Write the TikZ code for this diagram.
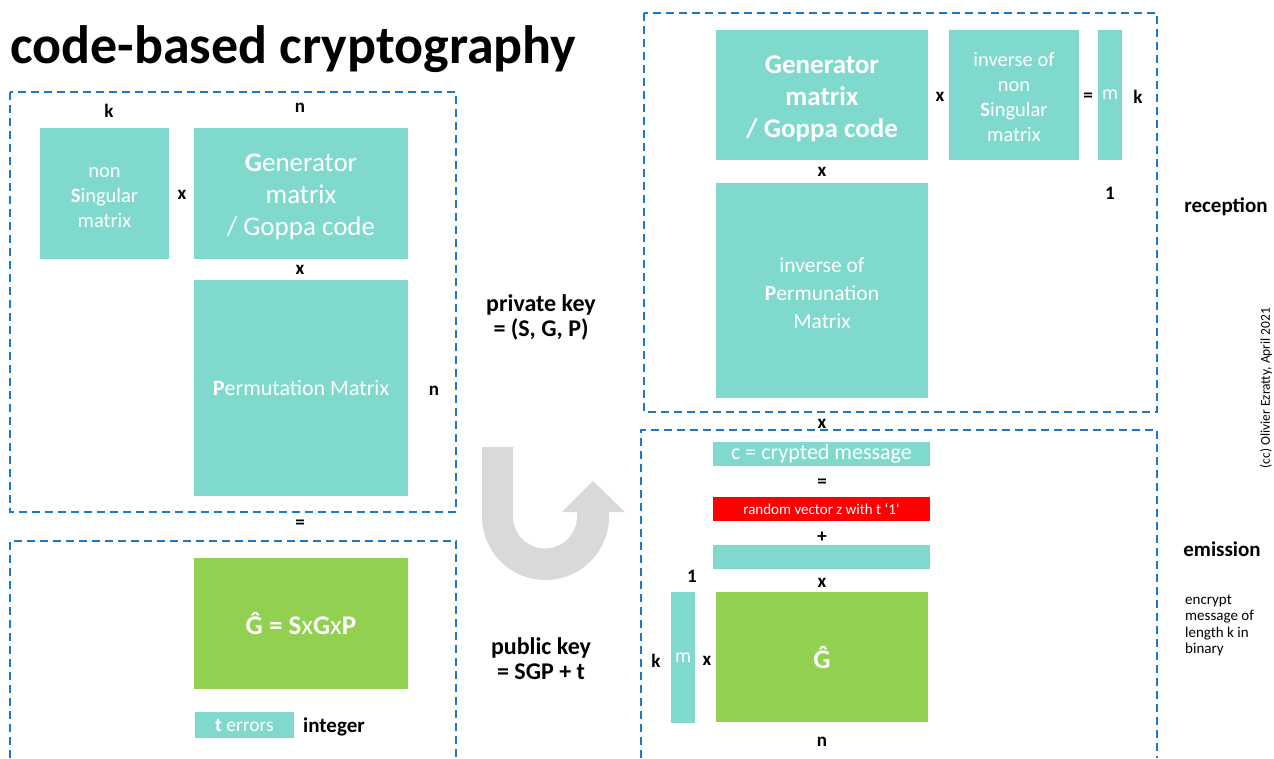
\documentclass[tikz,border=0pt]{standalone}
\usepackage{fontspec}
\setmainfont{Carlito}
\definecolor{teal1}{RGB}{127,218,205}
\definecolor{green1}{RGB}{146,208,80}
\definecolor{red1}{RGB}{255,0,0}
\definecolor{blue1}{RGB}{28,120,205}
\definecolor{gray1}{RGB}{217,217,217}
\newcommand{\fs}[2]{\fontsize{#1}{#2}\selectfont}
\newcommand{\dn}[1]{\raisebox{-4pt}[\height][\depth]{\begin{tabular}{@{}c@{}}#1\end{tabular}}}
\begin{document}
\begin{tikzpicture}[x=1pt,y=-1pt,
  mat/.style={fill=teal1,draw=none,inner sep=0pt,text=white,align=center},
  gmat/.style={fill=green1,draw=none,inner sep=0pt,text=white,align=center},
  rmat/.style={fill=red1,draw=none,inner sep=0pt,text=white,align=center},
  lbl/.style={font=\fs{19}{22}\bfseries,inner sep=0pt},
  dbox/.style={draw=blue1,line width=1.6pt,dash pattern=on 8pt off 5pt},
]
\useasboundingbox (0,0) rectangle (1274,758);
% title
\node[anchor=base west,inner sep=0pt,font=\fs{54}{60}\bfseries] (title) at (10,63) {code-based cryptography};
% dashed boxes
\draw[dbox] (10,92) rectangle (456,512);
\draw[dbox] (10,758) -- (10,541) -- (456,541) -- (456,758);
\draw[dbox] (644,13) rectangle (1157,412);
\draw[dbox] (641,758) -- (641,430) -- (1157,430) -- (1157,758);
% U-turn arrow
\fill[gray1] (482,447) -- (482,516.5) arc[start angle=180,end angle=0,radius=63.5]
  -- (609,512) -- (625,512) -- (593,481) -- (562,512) -- (577,512) -- (577,516.5)
  arc[start angle=0,end angle=180,radius=32] -- (513,447) -- cycle;
% left top
\node[lbl] (k1) at (109,111) {k};
\node[lbl] (n1) at (300,108) {n};
\node[mat,minimum width=129pt,minimum height=131pt,font=\fs{20.5}{25}] (S) at (104.5,193.5) {\dn{non\\\textbf{S}ingular\\matrix}};
\node[lbl] (x1) at (182,195) {x};
\node[mat,minimum width=214pt,minimum height=131pt,font=\fs{27}{32}] (G) at (301,193.5) {\dn{\textbf{G}enerator\\matrix\\/ Goppa code}};
\node[lbl] (x2) at (300,270) {x};
\node[mat,minimum width=214pt,minimum height=216pt,font=\fs{22}{26}] (P) at (301,388) {\textbf{P}ermutation Matrix};
\node[lbl] (n2) at (434,391) {n};
\node[lbl] (eq1) at (300,524) {=};
% left bottom
\node[gmat,minimum width=214pt,minimum height=131pt,font=\fs{27}{30}] (Gh) at (301,623.5) {\textbf{Ĝ = S}x\textbf{G}x\textbf{P}};
\node[mat,minimum width=99pt,minimum height=26pt,font=\fs{19.5}{22}] (t) at (244.5,725) {\textbf{t} errors};
\node[lbl,font=\fs{21}{24}\bfseries] (int) at (334,727) {integer};
% middle
\node[lbl,align=center,font=\fs{24}{25}\bfseries] (priv) at (541,317) {private key\\= (S, G, P)};
\node[lbl,align=center,font=\fs{24}{25}\bfseries] (pub) at (541,659) {public key\\= SGP + t};
% right top
\node[mat,minimum width=212pt,minimum height=130pt,font=\fs{27}{32}\bfseries] (G2) at (822,95) {\dn{Generator\\matrix\\/ Goppa code}};
\node[lbl] (x3) at (940,97) {x};
\node[mat,minimum width=130pt,minimum height=130pt,font=\fs{20.5}{25}] (Si) at (1014,95) {\dn{inverse of\\non\\\textbf{S}ingular\\matrix}};
\node[lbl] (eq2) at (1088,97) {=};
\node[mat,minimum width=24pt,minimum height=130pt,font=\fs{20}{22}] (m1) at (1110,95) {m};
\node[lbl] (k2) at (1138,97) {k};
\node[lbl] (one1) at (1110,193) {1};
\node[lbl] (x4) at (822,172) {x};
\node[mat,minimum width=212pt,minimum height=215pt,font=\fs{21.5}{28}] (Pi) at (822,290.5) {\dn{inverse of\\\textbf{P}ermunation\\Matrix}};
\node[lbl,font=\fs{21}{24}\bfseries] (rec) at (1226,207) {reception};
\node[rotate=90,inner sep=0pt,font=\fs{13.5}{15}] (cc) at (1266,388) {(cc) Olivier Ezratty, April 2021};
\node[lbl] (x5) at (822,424) {x};
% right bottom
\node[mat,minimum width=217pt,minimum height=24pt,font=\fs{22}{24}] (c) at (821.5,454) {c = crypted message};
\node[lbl] (eq3) at (822,483) {=};
\node[rmat,minimum width=217pt,minimum height=24pt,font=\fs{15}{17}] (z) at (821.5,509) {random vector z with t ‘1’};
\node[lbl] (plus) at (822,537) {+};
\node[mat,minimum width=217pt,minimum height=24pt] (e) at (821.5,557) {};
\node[lbl] (x6) at (822,583) {x};
\node[lbl] (one2) at (692,576) {1};
\node[gmat,minimum width=212pt,minimum height=130pt,font=\fs{27}{30}\bfseries] (Gh2) at (822,657) {Ĝ};
\node[mat,minimum width=24pt,minimum height=131pt,font=\fs{20}{22}] (m2) at (683,657.5) {m};
\node[lbl] (k3) at (656,661) {k};
\node[lbl] (x7) at (707,661) {x};
\node[lbl] (n3) at (822,742) {n};
\node[lbl,font=\fs{21}{24}\bfseries] (emi) at (1222,549) {emission};
\node[anchor=north west,inner sep=0pt,align=left,font=\fs{15}{16.3}] (enc) at (1185,595) {encrypt\\message of\\length k in\\binary};
\end{tikzpicture}
\end{document}
